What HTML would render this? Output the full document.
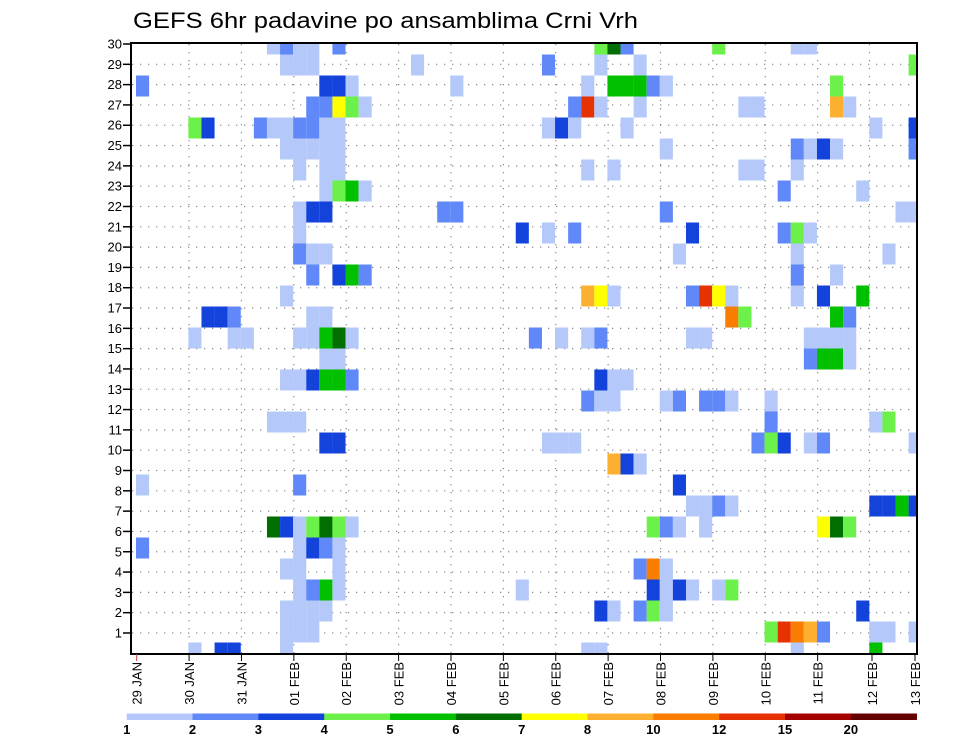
<!DOCTYPE html>
<html><head><meta charset="utf-8"><style>
html,body{margin:0;padding:0;background:#fff;}
svg{display:block;font-family:"Liberation Sans",sans-serif;}
</style></head><body>
<svg id="chart" width="960" height="742" viewBox="0 0 960 742" xmlns="http://www.w3.org/2000/svg">
<rect x="0" y="0" width="960" height="742" fill="#fff"/>
<text x="133" y="28" font-size="22" fill="#000" textLength="505" lengthAdjust="spacingAndGlyphs">GEFS 6hr padavine po ansamblima Crni Vrh</text>
<defs><clipPath id="plotclip"><rect x="131" y="43" width="786" height="611"/></clipPath></defs>
<g id="grid"></g>
<g id="cells" clip-path="url(#plotclip)"></g>
<rect x="131" y="43" width="786" height="611" fill="none" stroke="#000" stroke-width="2"/>
<g id="yaxis"></g>
<g id="xaxis"></g>
<g id="legend"></g>
</svg>
<script>
// ---- data ----
const dayLabels = ["29 JAN","30 JAN","31 JAN","01 FEB","02 FEB","03 FEB","04 FEB","05 FEB","06 FEB","07 FEB","08 FEB","09 FEB","10 FEB","11 FEB","12 FEB","13 FEB"];
const memberTicks = [1,2,3,4,5,6,7,8,9,10,11,12,13,14,15,16,17,18,19,20,21,22,23,24,25,26,27,28,29,30];
const legendLabels = ["1","2","3","4","5","6","7","8","10","12","15","20"];
const levels = [1,2,3,4,5,6,7,8,10,12,15,20];
const levelColors = ["#b4c8fa","#6088f8","#1443dc","#6cf04a","#00c000","#006e00","#ffff00","#fdb030","#f87d00","#e63200","#a50000","#640000"];
// each cell: ensemble member, 6-hour step index, precipitation (mm)
const members = [
30,30,30,30,30,30,30,30,30,30,30,
29,29,29,29,29,29,29,29,
28,28,28,28,28,28,28,28,28,28,28,28,
27,27,27,27,27,27,27,27,27,27,27,27,27,
26,26,26,26,26,26,26,26,26,26,26,26,26,26,26,
25,25,25,25,25,25,25,25,25,25,25,
24,24,24,24,24,24,24,24,
23,23,23,23,23,23,
22,22,22,22,22,22,22,22,
21,21,21,21,21,21,21,21,
20,20,20,20,20,20,
19,19,19,19,19,19,
18,18,18,18,18,18,18,18,18,18,18,
17,17,17,17,17,17,17,17,17,
16,16,16,16,16,16,16,16,16,16,16,16,16,16,16,16,16,16,
15,15,15,15,15,15,
14,14,14,14,14,14,14,14,14,
13,13,13,13,13,13,13,13,13,
12,12,12,12,12,12,
11,11,11,11,11,11,11,11,11,11,11,
10,10,10,
9,9,9,
8,8,8,8,8,8,8,8,
7,7,7,7,7,7,7,7,7,7,7,7,7,7,
6,6,6,6,6,
5,5,5,5,5,5,
4,4,4,4,4,4,4,4,4,4,4,
3,3,3,3,3,3,3,3,3,3,
2,2,2,2,2,2,2,2,2,2,2,
1,1,1,1,1,1,1,1];
const steps = [
10,11,12,13,15,35,36,37,44,50,51,
11,12,13,21,31,35,38,59,
0,14,15,16,24,34,36,37,38,39,40,53,
13,14,15,16,17,33,34,35,38,46,47,53,54,
4,5,9,10,11,12,13,14,15,31,32,33,37,56,59,
11,12,13,14,15,40,50,51,52,53,59,
12,14,15,34,36,46,47,50,
14,15,16,17,49,55,
12,13,14,23,24,40,58,59,
12,29,31,33,42,49,50,51,
12,13,14,41,50,57,
13,15,16,17,50,53,
11,34,35,36,42,43,44,45,50,52,55,
5,6,7,13,14,45,46,53,54,
4,7,8,12,13,14,15,16,30,32,34,35,42,43,51,52,53,54,
14,15,51,52,53,54,
11,12,13,14,15,16,35,36,37,
34,35,36,40,41,43,44,45,48,
10,11,12,48,56,57,
14,15,31,32,33,47,48,49,51,52,59,
36,37,38,
0,12,41,
42,43,44,45,56,57,58,59,
10,11,12,13,14,15,16,39,40,41,43,52,53,54,
0,12,13,14,15,
11,12,15,38,39,40,
12,13,14,15,29,39,40,41,42,44,45,
11,12,13,14,35,36,38,39,40,55,
11,12,13,48,49,50,51,52,56,57,59,
4,6,7,11,34,35,50,56];
const precip = [
1.5,2.5,1.5,1.5,2.5,4.5,6.5,2.5,4.5,1.5,1.5,
1.5,1.5,1.5,1.5,2.5,1.5,1.5,4.5,
2.5,3.5,3.5,1.5,1.5,1.5,5.5,5.5,5.5,2.5,1.5,4.5,
2.5,2.5,7.5,4.5,1.5,2.5,13.5,1.5,1.5,1.5,1.5,9,1.5,
4.5,3.5,2.5,1.5,1.5,2.5,2.5,1.5,1.5,1.5,3.5,1.5,1.5,1.5,3.5,
1.5,1.5,1.5,1.5,1.5,1.5,2.5,1.5,3.5,1.5,2.5,
1.5,1.5,1.5,1.5,1.5,1.5,1.5,1.5,
1.5,4.5,5.5,1.5,2.5,1.5,
1.5,3.5,3.5,2.5,2.5,2.5,1.5,1.5,
1.5,3.5,1.5,2.5,3.5,2.5,4.5,1.5,
2.5,1.5,1.5,1.5,1.5,1.5,
2.5,3.5,5.5,2.5,2.5,1.5,
1.5,9,7.5,1.5,2.5,13.5,7.5,1.5,1.5,3.5,5.5,
3.5,3.5,2.5,1.5,1.5,11,4.5,5.5,2.5,
1.5,1.5,1.5,1.5,1.5,5.5,6.5,1.5,2.5,1.5,1.5,2.5,1.5,1.5,1.5,1.5,1.5,1.5,
1.5,1.5,2.5,5.5,5.5,1.5,
1.5,1.5,3.5,5.5,5.5,2.5,3.5,1.5,1.5,
2.5,1.5,1.5,1.5,2.5,2.5,2.5,1.5,1.5,
1.5,1.5,1.5,2.5,1.5,4.5,
3.5,3.5,1.5,1.5,1.5,2.5,4.5,3.5,1.5,2.5,1.5,
9,3.5,1.5,
1.5,2.5,3.5,
1.5,1.5,2.5,1.5,3.5,3.5,5.5,3.5,
6.5,3.5,1.5,4.5,6.5,4.5,1.5,4.5,2.5,1.5,1.5,7.5,6.5,4.5,
2.5,1.5,3.5,2.5,1.5,
1.5,1.5,1.5,2.5,11,1.5,
1.5,2.5,5.5,1.5,1.5,3.5,1.5,3.5,1.5,1.5,4.5,
1.5,1.5,1.5,1.5,3.5,1.5,2.5,4.5,1.5,3.5,
1.5,1.5,1.5,4.5,13.5,11,9,2.5,1.5,1.5,1.5,
1.5,3.5,3.5,1.5,1.5,1.5,1.5,5.5];

// ---- scales ----
const NS = "http://www.w3.org/2000/svg";
const x0 = 136, stepW = 13.095;          // 6-hour step width
const dayW = 52.38, dayX0 = 136.7;
function xStep(t){ return x0 + t*stepW; }
function xDay(d){ return dayX0 + d*dayW; }
function yCell(m){ return 653 - (m-1)*21; }     // cell centre for member m
function yTick(v){ return 653.3 - v*20.31; }    // axis label position
function colorFor(v){ let c = levelColors[0]; for(let i=0;i<levels.length;i++){ if(v>=levels[i]) c = levelColors[i]; } return c; }
function mk(tag, attrs, parent){ const e=document.createElementNS(NS,tag); for(const k in attrs) e.setAttribute(k,attrs[k]); parent.appendChild(e); return e; }

// grid
const grid = document.getElementById("grid");
for(const v of memberTicks.slice(0,29)){
  const l = mk("line",{x1:132,x2:916,y1:yTick(v),y2:yTick(v),stroke:"#8a8a8a","stroke-width":1.2,"stroke-dasharray":"1.3,6.7"},grid);
  
  
}
for(let d=1; d<dayLabels.length-1; d++){
  const xx = d===14 ? 869.5 : xDay(d);
  const l = mk("line",{x1:xx,x2:xx,y1:44,y2:653,stroke:"#8a8a8a","stroke-width":1.2,"stroke-dasharray":"1.3,6.7"},grid);
  
  
}

// cells
const cells = document.getElementById("cells");
for(let i=0;i<precip.length;i++){
  const r = mk("rect",{x:xStep(steps[i]).toFixed(2),y:(yCell(members[i])-10.5).toFixed(2),width:stepW.toFixed(2),height:21,fill:colorFor(precip[i])},cells);
  
  
}

// y axis
const ya = document.getElementById("yaxis");
for(const v of memberTicks){
  const y = yTick(v);
  const tk = mk("line",{x1:123,x2:131,y1:y,y2:y,stroke:"#000","stroke-width":1.5},ya);
  
  
  const t = mk("text",{x:122,y:y+4.5,"text-anchor":"end","font-size":13,fill:"#000"},ya);
  t.textContent = v;
  
  
}

// x axis
const xa = document.getElementById("xaxis");
for(let d=0; d<dayLabels.length; d++){
  let xx = xDay(d);
  if(d===14) xx = 872; if(d===15) xx = 915;
  const tk = mk("line",{x1:xx,x2:xx,y1:654,y2:661,stroke:d===0?"#c04040":"#000","stroke-width":1},xa);
  
  
  const t = mk("text",{x:0,y:0,"text-anchor":"end","font-size":13,fill:"#000",transform:`translate(${(xx+5).toFixed(1)},662) rotate(-90)`},xa);
  t.textContent = dayLabels[d];
  
  
}

// legend
const lg = document.getElementById("legend");
const lx0 = 126.7, segW = 65.83;
for(let i=0;i<levelColors.length;i++){
  const r = mk("rect",{x:lx0+i*segW,y:713.5,width:segW+0.3,height:6.5,fill:levelColors[i]},lg);
  
  
  const t = mk("text",{x:lx0+i*segW,y:734,"text-anchor":"middle","font-size":13,"font-weight":"bold",fill:"#000"},lg);
  t.textContent = legendLabels[i];
  
  
}
</script>
</body></html>
